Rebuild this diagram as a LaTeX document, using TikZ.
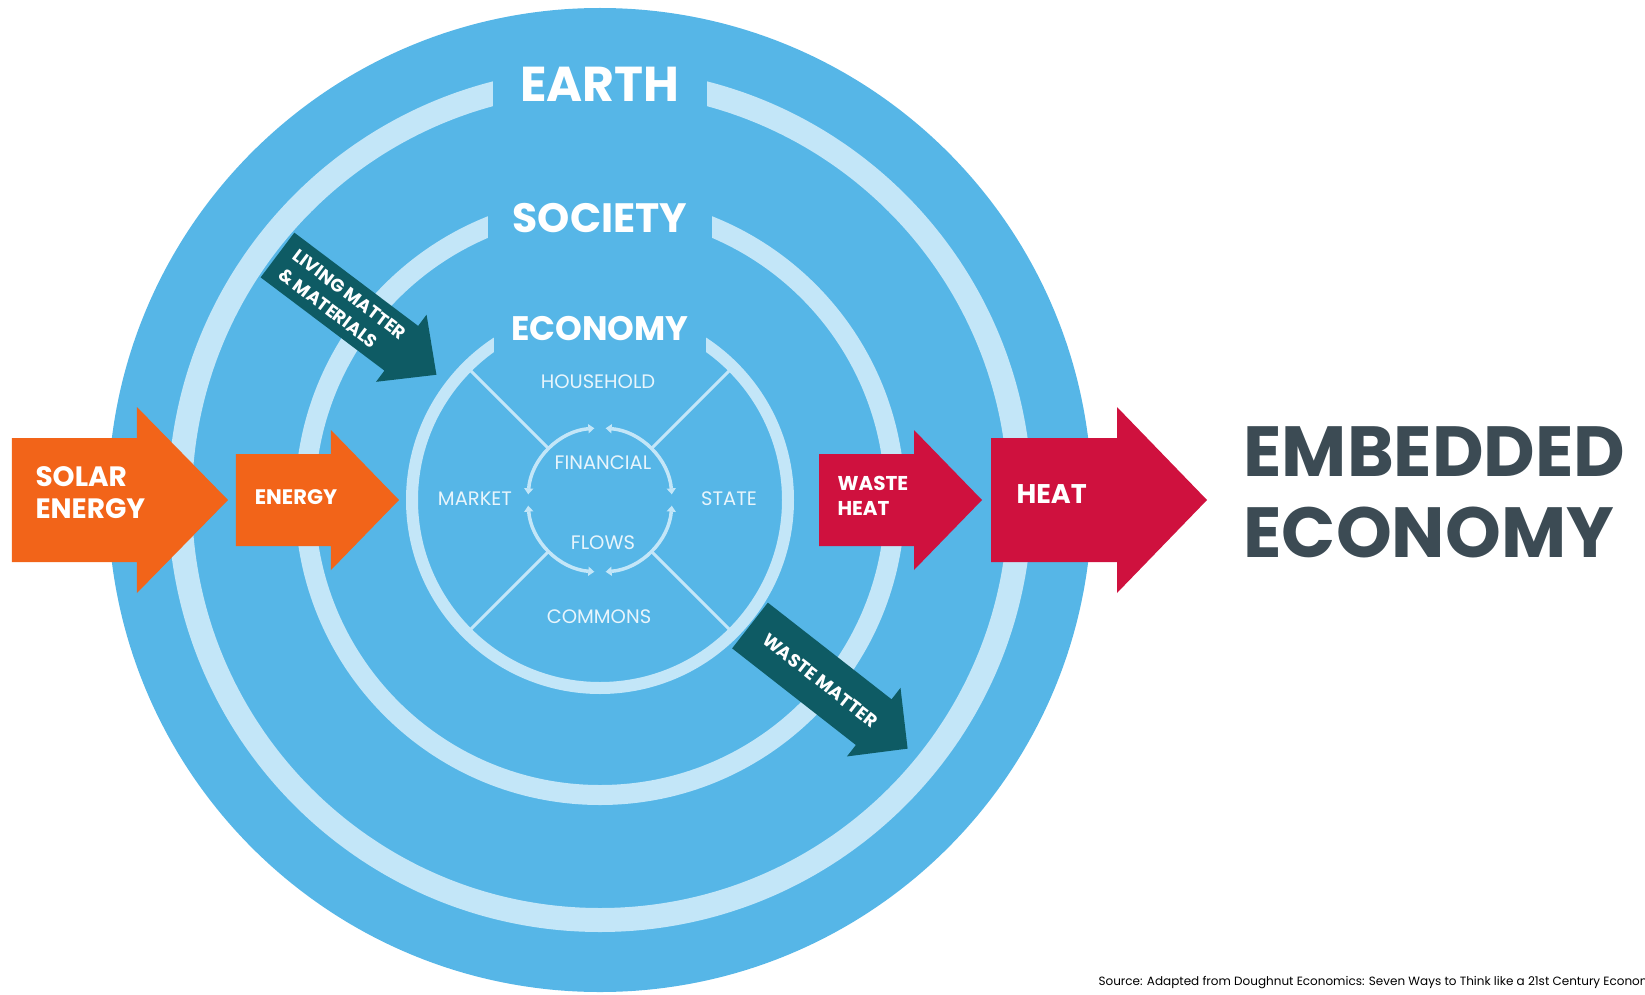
\documentclass[tikz,border=0pt]{standalone}
\usepackage{fontspec}
\setmainfont{Poppins}
\usetikzlibrary{arrows.meta}

\definecolor{earthblue}{HTML}{56B6E7}
\definecolor{ringblue}{HTML}{C3E6F8}
\definecolor{labelblue}{HTML}{E8F5FC}
\definecolor{solarorange}{HTML}{F26419}
\definecolor{heatred}{HTML}{CF113E}
\definecolor{matterteal}{HTML}{0E5B64}
\definecolor{titlegrey}{HTML}{3C4B54}

\begin{document}
\begin{tikzpicture}[x=1pt,y=1pt,
    spoke/.style={ringblue,line width=3pt},
    flow/.style={ringblue,line width=3.5pt,
      {Triangle[width=9pt,length=6pt]}-{Triangle[width=9pt,length=6pt]}},
    sector/.style={labelblue,font=\fontsize{19.5}{20}\selectfont}]
  \tikzstyle{title}=[white,font=\bfseries\fontsize{#1}{#1}\selectfont]
  \tikzstyle{inlabel}=[white,font=\bfseries,align=left]

  \useasboundingbox (-600,-494) rectangle (1045,500);

  % earth, society, economy
  \fill[earthblue] (0,0) circle[radius=492pt];
  \draw[ringblue,line width=24pt] (0,0) circle[radius=420pt];
  \draw[ringblue,line width=20pt] (0,0) circle[radius=295pt];
  \draw[ringblue,line width=12pt] (0,0) circle[radius=188pt];
  \fill[earthblue] (-107,380) rectangle (107,440);
  \fill[earthblue] (-112,255) rectangle (112,310);
  \fill[earthblue] (-106,140) rectangle (106,200);

  \node[title=49] (earth)   at (0,416) {EARTH};
  \node[title=41] (society) at (0,282) {SOCIETY};
  \node[title=34] (economy) at (0,171) {ECONOMY};

  % four sectors and the financial flows
  \foreach \a in {45,135,225,315}
    \draw[spoke] (\a:74pt) -- (\a:183pt);
  \foreach \a in {0,90,180,270}
    \draw[flow] ({\a+4.5}:72pt) arc[start angle=\a+4.5, end angle=\a+85.5, radius=72pt];

  \node[sector] (household) at (-2,118)  {HOUSEHOLD};
  \node[sector] (market)    at (-125,1)  {MARKET};
  \node[sector] (state)     at (129,1)   {STATE};
  \node[sector] (commons)   at (-1,-117) {COMMONS};
  \node[sector] (financial) at (3,37)    {FINANCIAL};
  \node[sector] (flows)     at (3,-43)   {FLOWS};

  % energy in, heat out
  \fill[solarorange] (-588,-62) -- (-463,-62) -- (-463,-93) -- (-372,0)
    -- (-463,93) -- (-463,62) -- (-588,62) -- cycle;
  \fill[solarorange] (-364,-46) -- (-269,-46) -- (-269,-70) -- (-201,0)
    -- (-269,70) -- (-269,46) -- (-364,46) -- cycle;
  \fill[heatred] (219,-46) -- (314,-46) -- (314,-70) -- (382,0)
    -- (314,70) -- (314,46) -- (219,46) -- cycle;
  \fill[heatred] (391,-62) -- (517,-62) -- (517,-93) -- (607,0)
    -- (517,93) -- (517,62) -- (391,62) -- cycle;

  \node[inlabel,anchor=west,font=\bfseries\fontsize{28}{32}\selectfont]
    (solar) at (-568,7) {SOLAR\\ENERGY};
  \node[inlabel,font=\bfseries\fontsize{21}{24}\selectfont]
    (energy) at (-304,3) {ENERGY};
  \node[inlabel,anchor=west,font=\bfseries\fontsize{20}{25}\selectfont]
    (wasteheat) at (234,4) {WASTE\\HEAT};
  \node[inlabel,anchor=west,font=\bfseries\fontsize{27}{31}\selectfont]
    (heat) at (413,6) {HEAT};

  % matter in and out
  \begin{scope}[shift={(-322.5,245)},rotate=-37]
    \fill[matterteal] (0,-28) -- (155,-28) -- (155,-42) -- (199,0)
      -- (155,42) -- (155,28) -- (0,28) -- cycle;
    \node[inlabel,transform shape,anchor=west,font=\bfseries\fontsize{18}{24}\selectfont]
      (living) at (10,0) {LIVING MATTER\\\& MATERIALS};
  \end{scope}
  \begin{scope}[shift={(150,-125.5)},rotate=-38]
    \fill[matterteal] (0,-29) -- (157,-29) -- (157,-43.5) -- (200,0)
      -- (157,43.5) -- (157,29) -- (0,29) -- cycle;
    \node[inlabel,transform shape,font=\bfseries\fontsize{18}{23}\selectfont]
      (wastematter) at (89,0) {WASTE MATTER};
  \end{scope}

  \node[titlegrey,anchor=west,align=left,font=\bfseries\fontsize{71}{81}\selectfont]
    (embedded) at (640,8) {EMBEDDED\\ECONOMY};
  \node[anchor=west,font=\fontsize{12}{12}\selectfont]
    (source) at (495,-483) {Source: Adapted from Doughnut Economics: Seven Ways to Think like a 21st Century Economist};
\end{tikzpicture}
\end{document}
